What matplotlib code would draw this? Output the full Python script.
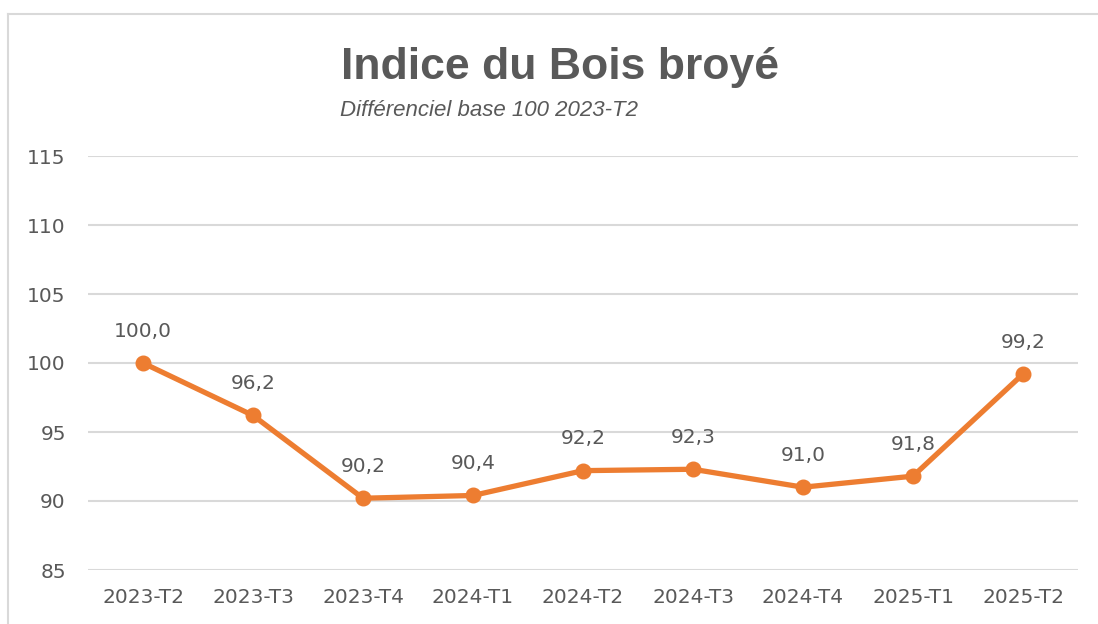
import matplotlib
matplotlib.use("Agg")
import matplotlib.pyplot as plt
from matplotlib.lines import Line2D

plt.rcParams.update({"font.family": "DejaVu Sans"})

ORANGE, GRAY, GRID = "#ED7D31", "#595959", "#D9D9D9"

periodes = ["2023-T2", "2023-T3", "2023-T4", "2024-T1", "2024-T2",
            "2024-T3", "2024-T4", "2025-T1", "2025-T2"]
indice = [100.0, 96.2, 90.2, 90.4, 92.2, 92.3, 91.0, 91.8, 99.2]
y_ticks = [85, 90, 95, 100, 105, 110, 115]

W, H = 1098, 624
fig = plt.figure(figsize=(W / 100, H / 100), dpi=100)
ax = fig.add_axes([88 / W, 1 - 570 / H, (1078 - 88) / W, (570 - 156) / H])

x = list(range(len(periodes)))
ax.plot(x, indice, "-o", color=ORANGE, lw=3.8, ms=10.5, zorder=3)
for xi, v in zip(x, indice):
    ax.annotate(f"{v:.1f}".replace(".", ","), (xi, v), textcoords="offset points",
                xytext=(0, 16), ha="center", va="bottom", fontsize=14.5, color=GRAY)

ax.set_xlim(-0.5, len(periodes) - 0.5)
ax.set_ylim(85, 115)
ax.set_yticks(y_ticks)
ax.set_xticks(x)
ax.set_xticklabels(periodes)
ax.tick_params(axis="both", length=0, labelsize=14.5, labelcolor=GRAY)
ax.tick_params(axis="y", pad=16)
ax.tick_params(axis="x", pad=13)
ax.grid(axis="y", color=GRID, lw=1.5)
ax.set_axisbelow(True)
for s in ax.spines.values():
    s.set_visible(False)

# cadre du graphique (coupé à droite et en bas)
fig.add_artist(Line2D([8 / W, 8 / W], [0, 1 - 14 / H], color=GRID, lw=1.5))
fig.add_artist(Line2D([8 / W, 1], [1 - 14 / H, 1 - 14 / H], color=GRID, lw=1.5))

fig.text(560 / W, 1 - 79 / H, "Indice du Bois broyé", ha="center", va="baseline",
         fontsize=32, fontweight="bold", color=GRAY, family="Liberation Sans")
fig.text(340 / W, 1 - 116 / H, "Différenciel base 100 2023-T2", ha="left", va="baseline",
         fontsize=16, style="italic", color=GRAY, family="Liberation Sans")

fig.savefig("out.png", dpi=100)
